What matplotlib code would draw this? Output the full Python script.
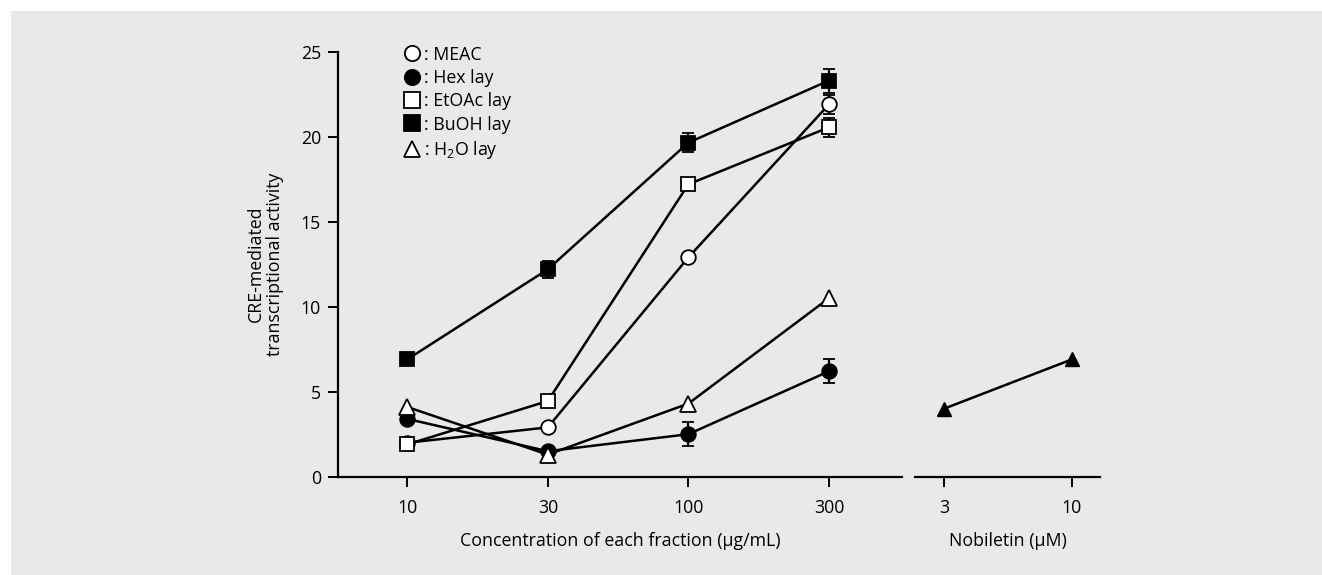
import matplotlib
matplotlib.use("Agg")
import matplotlib.pyplot as plt
from matplotlib.lines import Line2D
from matplotlib.patches import Rectangle

plt.rcParams['font.family'] = ['Open Sans', 'DejaVu Sans']
plt.rcParams['mathtext.default'] = 'regular'

# ---- data ----
conc_labels = ["10", "30", "100", "300"]
meac = [2.0, 2.9, 12.9, 21.9]
meac_err = [0.0, 0.0, 0.0, 0.55]
hex_lay = [3.4, 1.5, 2.5, 6.2]
hex_err = [0.0, 0.0, 0.7, 0.7]
etoac = [1.9, 4.45, 17.2, 20.55]
etoac_err = [0.0, 0.0, 0.0, 0.55]
buoh = [6.9, 12.2, 19.65, 23.3]
buoh_err = [0.0, 0.5, 0.55, 0.7]
h2o = [4.1, 1.3, 4.3, 10.5]
h2o_err = [0.0, 0.0, 0.0, 0.0]
nob_labels = ["3", "10"]
nobiletin = [4.0, 6.9]

series = [
    (": MEAC", meac, meac_err, 'o', 'white'),
    (": Hex lay", hex_lay, hex_err, 'o', 'black'),
    (": EtOAc lay", etoac, etoac_err, 's', 'white'),
    (": BuOH lay", buoh, buoh_err, 's', 'black'),
    (": H$_2$O lay", h2o, h2o_err, '^', 'white'),
]

FS = 12.8
W, H = 1322, 575
fig = plt.figure(figsize=(W / 100, H / 100), dpi=100, facecolor='white')
fig.patches.append(Rectangle((11 / W, 0), 1 - 11 / W, (H - 11) / H,
                             transform=fig.transFigure, facecolor='#e9e9e9',
                             edgecolor='none', zorder=-10))

bot = (H - 476.7) / H
top = (H - 51.7) / H
ax = fig.add_axes([337.7 / W, bot, (902 - 337.7) / W, top - bot])
ax2 = fig.add_axes([915 / W, bot, (1100 - 915) / W, top - bot])

x = list(range(len(conc_labels)))
order = [4, 1, 0, 2, 3]
for i in order:
    lab, vals, err, mk, fc = series[i]
    ax.errorbar(x, vals, yerr=[e if e > 0 else float('nan') for e in err],
                color='black', lw=1.8, marker=mk, mfc=fc, mec='black',
                mew=1.3, ms=10.5 if mk != '^' else 11.5, capsize=4, capthick=1.6,
                elinewidth=1.6, zorder=3 + i)

ax2.plot(range(len(nob_labels)), nobiletin, color='black', lw=1.8,
         marker='^', mfc='black', mec='black', ms=10.5)

for a in (ax, ax2):
    a.set_facecolor('none')
    a.spines['top'].set_visible(False)
    a.spines['right'].set_visible(False)
    a.set_ylim(0, 25)
    a.tick_params(axis='y', direction='out', length=7, width=1.4, labelsize=FS,
                  colors='black', pad=5)
    a.tick_params(axis='x', direction='out', length=7, width=1.4, labelsize=FS,
                  colors='black', pad=9)
    for s in ('left', 'bottom'):
        a.spines[s].set_linewidth(1.6)

ax.set_xlim(-0.495, 3.52)
ax.set_xticks(x)
ax.set_xticklabels(conc_labels)
ax.set_yticks([0, 5, 10, 15, 20, 25])
ax.set_xlabel("Concentration of each fraction (µg/mL)", fontsize=FS, labelpad=11)
ax.set_ylabel("CRE-mediated\ntranscriptional activity", fontsize=FS, labelpad=12,
              linespacing=1.1)

ax2.set_xlim(-0.227, 1.22)
ax2.set_xticks(range(len(nob_labels)))
ax2.set_xticklabels(nob_labels)
ax2.spines['left'].set_visible(False)
ax2.set_yticks([])
ax2.set_xlabel("Nobiletin (µM)", fontsize=FS, labelpad=11)

handles = [Line2D([], [], ls='none', marker=s[3], mfc=s[4], mec='black',
                  mew=1.3, ms=11, color='black') for s in series]
ax.legend(handles, [s[0] for s in series], loc='upper left',
          bbox_to_anchor=(0.098, 1.035), frameon=False, fontsize=FS,
          handletextpad=0.15, labelspacing=0.3, handlelength=1.1,
          borderpad=0)

fig.savefig("out.png", dpi=100, facecolor=fig.get_facecolor())
